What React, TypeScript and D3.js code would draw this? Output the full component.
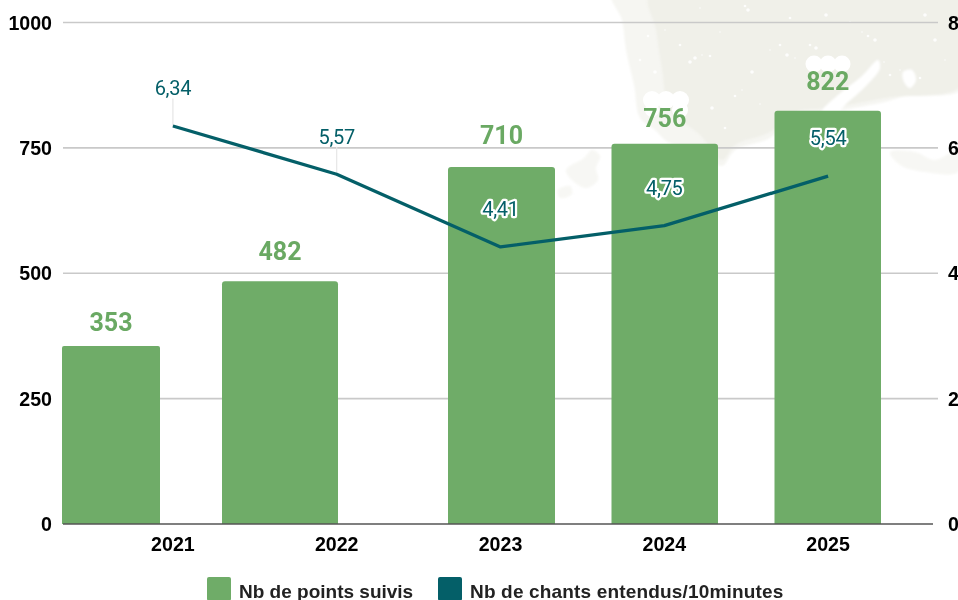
import React from "react";
import * as d3 from "d3";

const years = ["2021", "2022", "2023", "2024", "2025"];
const points = [353, 482, 710, 756, 822];
const songs = [6.34, 5.57, 4.41, 4.75, 5.54];
const songLabels = ["6,34", "5,57", "4,41", "4,75", "5,54"];
const leftTicks = [0, 250, 500, 750, 1000];
const rightTicks = [0, 2, 4, 6, 8];
const legendNames = ["Nb de points suivis", "Nb de chants entendus/10minutes"];

const GREEN = "#6fac68";
const GREEN_TEXT = "#6aa963";
const TEAL = "#045f68";
const INK = "#000000";
const BEIGE = "#f0f0e9";

// manual layout of the bars in the source, which are not centred on their ticks
const barEdges: [number, number][] = [[62, 160], [222, 338], [448, 555], [611.5, 718], [774.5, 881]];
const barLabelGaps = [25, 31, 33, 27, 31];
const hasLeader = [true, true, false, false, false];

const x = d3.scaleBand<string>().domain(years).range([91, 910]);
const yLeft = d3.scaleLinear().domain([0, 1000]).range([524, 22.5]);
const yRight = d3.scaleLinear().domain([0, 8]).range([524, 22.5]);
const cx = (y: string) => (x(y) as number) + x.bandwidth() / 2;

const linePath = d3.line<number>().x((_, i) => cx(years[i])).y((d) => yRight(d) - 0.6)(songs) as string;

const topRound = (x0: number, x1: number, top: number, bottom: number, r: number) => {
  const p = d3.path();
  p.moveTo(x0, bottom);
  p.lineTo(x0, top + r);
  p.quadraticCurveTo(x0, top, x0 + r, top);
  p.lineTo(x1 - r, top);
  p.quadraticCurveTo(x1, top, x1, top + r);
  p.lineTo(x1, bottom);
  p.closePath();
  return p.toString();
};

const blob = d3.line().curve(d3.curveCatmullRomClosed.alpha(0.5));

// decorative map in the page background
const landEdge: [number, number][] = [[612, -6], [622, 20], [626, 50], [634, 85], [640, 118], [655, 130], [668, 142], [700, 150], [722, 166], [735, 150], [770, 138], [790, 118], [830, 112], [885, 102], [905, 96], [964, 88], [964, -6], [760, -6]];
const landCore: [number, number][] = [[650, -6], [656, 30], [662, 70], [670, 110], [700, 135], [722, 160], [735, 145], [770, 132], [795, 112], [830, 108], [885, 98], [964, 84], [964, -6]];
const landFaint: [number, number][][] = [
  [[566, 170], [584, 158], [592, 150], [600, 156], [596, 168], [598, 180], [586, 188], [572, 180]],
  [[890, 152], [915, 152], [935, 160], [958, 150], [958, 172], [925, 172], [900, 165]],
  [[558, 190], [570, 186], [572, 194], [560, 198]],
];
const whiteShapes: [number, number][][] = [
  [[822, 112], [838, 95], [862, 76], [878, 60], [880, 68], [866, 86], [846, 104], [836, 114]],
  [[903, 72], [912, 70], [916, 80], [910, 88], [904, 82]],
  [[790, 128], [806, 118], [808, 132], [796, 146]],
];
const specks: [number, number, number][] = [
  [700, 8], [745, 6], [748, 10], [665, 30], [680, 45], [695, 58], [702, 55], [710, 56], [690, 62], [742, 90], [735, 96],
  [752, 72], [770, 50], [780, 45], [787, 55], [795, 58], [810, 45], [816, 48], [862, 32], [868, 36], [875, 40], [900, 70],
  [920, 78], [935, 40], [945, 60], [725, 128], [712, 108], [760, 104], [648, 36], [655, 72], [680, 118], [640, 60],
  [840, 70], [884, 62], [890, 75], [826, 15], [850, 22], [790, 18], [925, 15], [720, 32],
].map(([a, b], i) => [a, b, 0.8 + (i % 3) * 0.5]);
// white lumps left above two labels in the source
const lumps: [number, number, number][] = [
  [652, 100, 9], [666, 100, 9], [680, 100, 9], [652, 110, 7], [680, 110, 8],
  [814, 64, 8.5], [828, 64, 8.5], [842, 64, 8.5],
];

const App = () => (
  <svg
    width={958}
    height={600}
    viewBox="0 0 958 600"
    style={{ position: "absolute", left: 0, top: 0, background: "#ffffff" }}
  >
    <defs>
      <filter id="soft" x="-10%" y="-10%" width="120%" height="120%">
        <feGaussianBlur stdDeviation="1.2" />
      </filter>
    </defs>

    <g filter="url(#soft)">
      <path d={blob(landEdge) as string} fill={BEIGE} opacity={0.6} />
      <path d={blob(landCore) as string} fill={BEIGE} />
      {landFaint.map((b, i) => (
        <path key={i} d={blob(b) as string} fill={BEIGE} opacity={0.5} />
      ))}
      {whiteShapes.map((b, i) => (
        <path key={i} d={blob(b) as string} fill="#ffffff" />
      ))}
    </g>
    {specks.map(([a, b, r], i) => (
      <circle key={i} cx={a} cy={b} r={r} fill="#ffffff" opacity={0.85} />
    ))}
    {lumps.map(([a, b, r], i) => (
      <circle key={i} cx={a} cy={b} r={r} fill="#ffffff" />
    ))}

    {leftTicks.filter((t) => t > 0).map((t) => (
      <line key={t} x1={63} x2={938} y1={yLeft(t)} y2={yLeft(t)} stroke="#c9c9c9" strokeWidth={1.7} />
    ))}

    {years.map((y, i) => (
      <path
        key={y}
        d={topRound(barEdges[i][0], barEdges[i][1], yLeft(points[i]) - 1, yLeft(0), i === 0 ? 2 : 3)}
        fill={GREEN}
      />
    ))}

    <line x1={63} x2={933} y1={yLeft(0)} y2={yLeft(0)} stroke="#555555" strokeWidth={1.6} />

    {years.map((y, i) =>
      hasLeader[i] ? (
        <line
          key={y}
          x1={cx(y)}
          x2={cx(y)}
          y1={yRight(songs[i]) - 28}
          y2={yRight(songs[i])}
          stroke="#e6e6e6"
          strokeWidth={1.2}
        />
      ) : null
    )}

    <path d={linePath} fill="none" stroke={TEAL} strokeWidth={3.3} strokeLinejoin="round" />

    {years.map((y, i) => (
      <text
        key={y}
        x={(barEdges[i][0] + barEdges[i][1]) / 2}
        y={yLeft(points[i]) - barLabelGaps[i]}
        dy="0.36em"
        textAnchor="middle"
        fontFamily="Roboto"
        fontWeight={700}
        fontSize={25}
        fill={GREEN_TEXT}
      >
        {points[i]}
      </text>
    ))}

    {years.map((y, i) => (
      <text
        key={y}
        x={cx(y)}
        y={yRight(songs[i]) - 38.5}
        dy="0.36em"
        textAnchor="middle"
        fontFamily="Roboto"
        fontSize={20}
        letterSpacing={-0.3}
        fill={TEAL}
        stroke={hasLeader[i] ? "none" : "#ffffff"}
        strokeWidth={4.5}
        strokeLinejoin="round"
        paintOrder="stroke"
      >
        {songLabels[i]}
      </text>
    ))}

    {leftTicks.map((t) => (
      <text
        key={t}
        x={52}
        y={yLeft(t)}
        dy="0.36em"
        textAnchor="end"
        fontFamily="Liberation Sans"
        fontWeight={700}
        fontSize={19.6}
        fill={INK}
      >
        {t}
      </text>
    ))}
    {rightTicks.map((t) => (
      <text
        key={t}
        x={948}
        y={yRight(t)}
        dy="0.36em"
        fontFamily="Liberation Sans"
        fontWeight={700}
        fontSize={19.6}
        fill={INK}
      >
        {t}
      </text>
    ))}
    {years.map((y) => (
      <text
        key={y}
        x={cx(y)}
        y={551}
        textAnchor="middle"
        fontFamily="Liberation Sans"
        fontWeight={700}
        fontSize={19.6}
        fill={INK}
      >
        {y}
      </text>
    ))}

    {legendNames.map((name, i) => {
      const left = i === 0 ? 207 : 438;
      return (
        <g key={name}>
          <rect x={left} y={577} width={24} height={24} rx={2} fill={i === 0 ? GREEN : TEAL} />
          <text
            x={left + 32}
            y={597.5}
            fontFamily="Liberation Sans"
            fontWeight={700}
            fontSize={19}
            letterSpacing={i === 0 ? 0 : 0.17}
            fill="#222222"
          >
            {name}
          </text>
        </g>
      );
    })}
  </svg>
);

export default App;
